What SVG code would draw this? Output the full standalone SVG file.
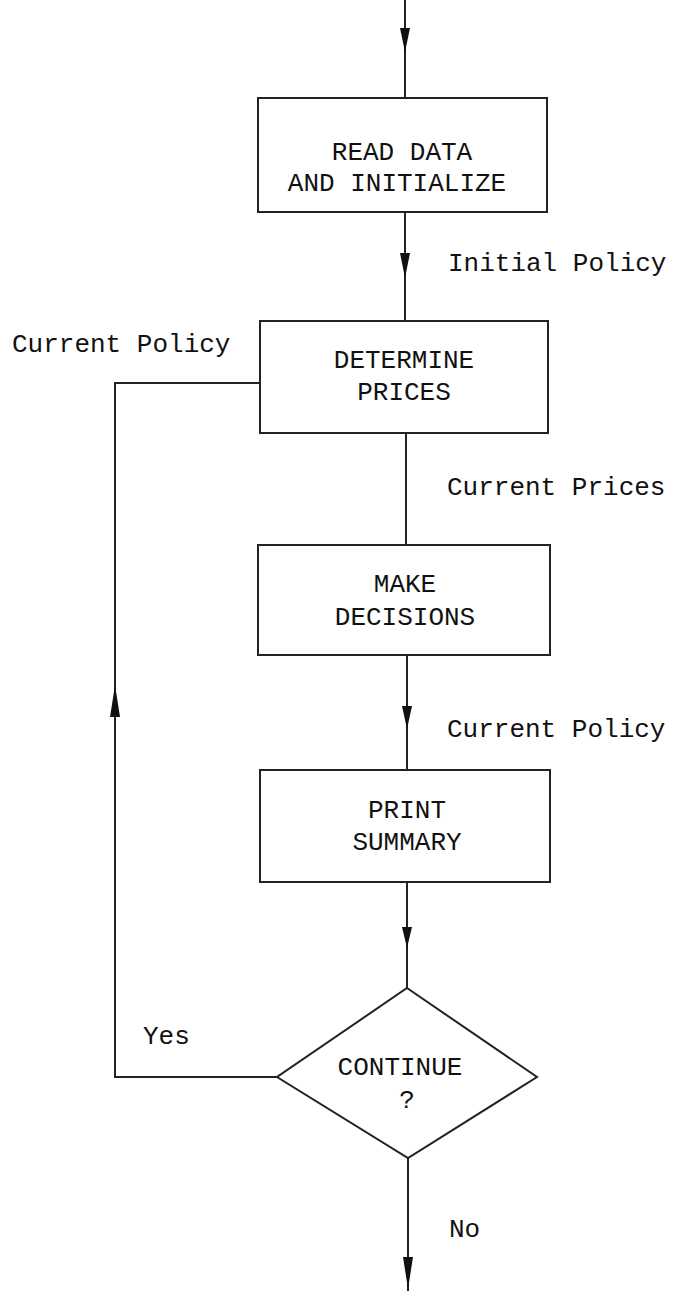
<svg xmlns="http://www.w3.org/2000/svg" width="675" height="1291" viewBox="0 0 675 1291">
<style>
.box{fill:none;stroke:#222;stroke-width:2}
.ln{fill:none;stroke:#222;stroke-width:2}
.t{font-family:"Liberation Mono",monospace;font-size:26px;fill:#111}
.c{text-anchor:middle}
.ah{fill:#111}
</style>
<rect width="675" height="1291" fill="#fff"/>
<g id="connectors">
<line class="ln" x1="405" y1="0" x2="405" y2="98"/>
<polygon class="ah" points="400,28 410,28 405,52"/>
<line class="ln" x1="405" y1="212" x2="405" y2="320"/>
<polygon class="ah" points="400,253 410,253 405,278"/>
<line class="ln" x1="406" y1="433" x2="406" y2="545"/>
<line class="ln" x1="407" y1="655" x2="407" y2="770"/>
<polygon class="ah" points="402,706 412,706 407,729"/>
<line class="ln" x1="407" y1="882" x2="407" y2="988"/>
<polygon class="ah" points="402,927 412,927 407,948"/>
<line class="ln" x1="408" y1="1158" x2="408" y2="1291"/>
<polygon class="ah" points="403,1257 413,1257 408,1289"/>
<polyline class="ln" points="277,1077 115,1077 115,383 260,383"/>
<polygon class="ah" points="110,717 120,717 115,685"/>
</g>
<g id="read">
<rect class="box" x="258" y="98" width="289" height="114"/>
<text class="t c" x="402" y="160">READ DATA</text>
<text class="t c" x="397" y="191">AND INITIALIZE</text>
</g>
<g id="determine">
<rect class="box" x="260" y="321" width="288" height="112"/>
<text class="t c" x="404" y="368">DETERMINE</text>
<text class="t c" x="404" y="400">PRICES</text>
</g>
<g id="make">
<rect class="box" x="258" y="545" width="292" height="110"/>
<text class="t c" x="405" y="592">MAKE</text>
<text class="t c" x="405" y="625">DECISIONS</text>
</g>
<g id="print">
<rect class="box" x="260" y="770" width="290" height="112"/>
<text class="t c" x="407" y="818">PRINT</text>
<text class="t c" x="407" y="850">SUMMARY</text>
</g>
<g id="continue">
<polygon class="box" points="407,988 537,1077 408,1158 277,1077"/>
<text class="t c" x="400" y="1075">CONTINUE</text>
<text class="t c" x="407" y="1108">?</text>
</g>
<g id="labels">
<text class="t" x="448" y="271">Initial Policy</text>
<text class="t" x="12" y="352">Current Policy</text>
<text class="t" x="447" y="495">Current Prices</text>
<text class="t" x="447" y="737">Current Policy</text>
<text class="t" x="143" y="1044">Yes</text>
<text class="t" x="449" y="1237">No</text>
</g>
</svg>
